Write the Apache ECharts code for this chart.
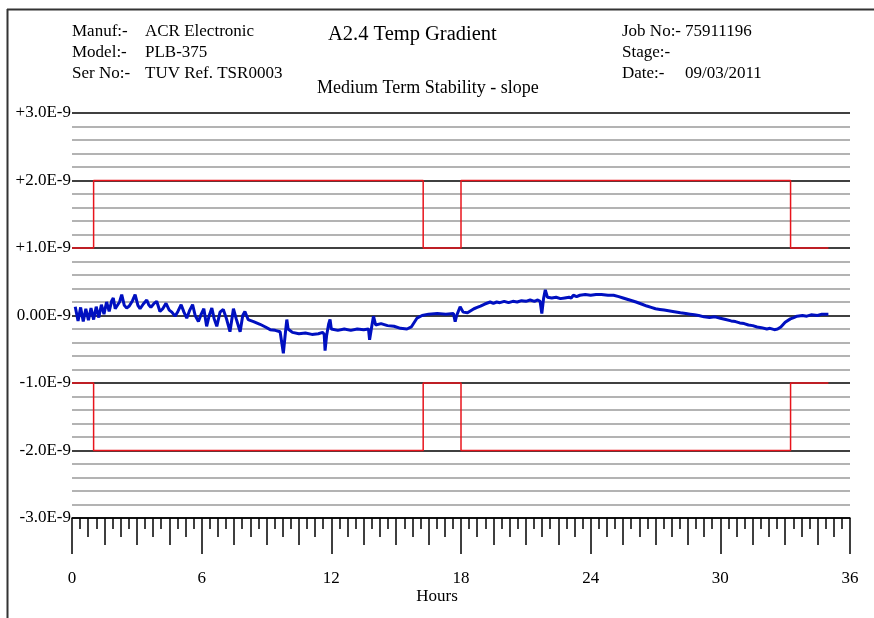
<!DOCTYPE html>
<html>
<head>
<meta charset="utf-8">
<script src="https://cdn.jsdelivr.net/npm/echarts@6/dist/echarts.min.js"></script>
<style>
html,body{margin:0;padding:0;background:#fff;}
#chart{width:874px;height:618px;}
</style>
</head>
<body>
<div id="chart"></div>
<script>
// ---- data (values in units of 1E-9) ----
var hours = [0.15,0.28,0.4,0.52,0.64,0.76,0.88,1.0,1.12,1.24,1.36,1.48,1.6,1.72,1.84,1.91,2.0,2.08,
  2.2,2.3,2.42,2.53,2.65,2.8,2.92,3.05,3.15,3.3,3.46,3.55,3.65,3.8,3.92,4.07,4.2,4.35,4.5,4.62,4.77,4.9,5.05,5.18,5.31,5.45,5.58,5.7,5.85,5.98,6.1,6.23,6.35,6.47,6.58,6.7,6.85,7.0,7.15,7.31,7.47,7.6,7.78,7.9,8.0,8.15,8.4,8.7,8.95,9.17,9.4,9.63,9.7,
  9.78,9.86,9.94,10.0,10.2,10.5,10.8,11.1,11.4,11.6,11.67,11.71,11.78,11.88,11.94,12.0,12.3,12.6,12.9,13.2,13.5,13.72,13.77,13.85,13.95,14.05,14.3,14.6,14.9,15.2,15.5,15.7,15.96,16.2,16.5,16.9,17.3,17.65,17.73,17.8,17.96,18.1,
  18.3,18.45,18.6,18.75,18.9,19.1,19.35,19.5,19.65,19.8,20.0,20.2,20.4,20.6,20.8,21.0,21.2,21.4,21.55,21.66,21.74,21.82,21.9,
  22.0,22.2,22.4,22.6,22.8,23.0,23.1,23.2,23.35,23.5,23.75,24.0,24.25,24.5,24.8,25.06,25.3,25.5,25.8,26.1,26.35,26.6,26.8,27.0,27.2,27.4,27.8,28.15,28.4,28.6,28.8,29.0,29.25,29.5,29.75,30.0,30.25,30.5,30.7,30.9,31.1,31.3,31.5,31.7,31.9,32.15,32.3,32.5,32.65,32.8,33.0,33.24,33.4,33.55,33.8,34.0,34.2,34.5,34.7,35.0];
var slope = [0.13,-0.08,0.12,-0.09,0.1,-0.07,0.11,-0.06,0.13,-0.03,0.16,0.02,0.2,0.06,0.22,0.26,0.1,0.14,
  0.2,0.31,0.15,0.11,0.14,0.22,0.31,0.15,0.1,0.17,0.23,0.16,0.12,0.18,0.21,0.06,0.1,0.18,0.08,0.05,-0.01,0.06,0.16,0.05,-0.04,0.08,0.16,0.0,-0.09,0.02,0.1,-0.16,0.0,0.11,-0.05,-0.16,0.05,0.09,-0.05,-0.24,0.1,-0.05,-0.24,0.0,0.06,-0.06,-0.09,-0.13,-0.17,-0.21,-0.22,-0.24,-0.25,
  -0.56,-0.3,-0.06,-0.2,-0.25,-0.27,-0.26,-0.28,-0.27,-0.25,-0.28,-0.52,-0.3,-0.12,-0.06,-0.2,-0.22,-0.2,-0.22,-0.2,-0.21,-0.2,-0.36,-0.2,-0.01,-0.14,-0.12,-0.15,-0.16,-0.19,-0.2,-0.17,-0.04,0.0,0.02,0.03,0.02,0.03,-0.09,0.0,0.13,0.05,
  0.04,0.07,0.1,0.12,0.14,0.17,0.2,0.18,0.2,0.19,0.21,0.19,0.21,0.2,0.22,0.21,0.23,0.21,0.23,0.21,0.03,0.25,0.38,
  0.27,0.26,0.27,0.25,0.26,0.27,0.26,0.3,0.28,0.3,0.31,0.3,0.31,0.31,0.3,0.3,0.28,0.26,0.23,0.2,0.17,0.14,0.12,0.1,0.09,0.08,0.06,0.04,0.03,0.02,0.01,0.0,-0.02,-0.03,-0.02,-0.04,-0.06,-0.08,-0.09,-0.11,-0.12,-0.14,-0.15,-0.17,-0.18,-0.2,-0.19,-0.21,-0.2,-0.17,-0.1,-0.05,-0.03,-0.01,0.0,-0.01,0.01,0.0,0.02,0.02];

var limitHours = [0,1,1,16.25,16.25,18,18,33.25,33.25,35];
var upperLimit = [1,1,2,2,1,1,2,2,1,1];
var lowerLimit = [-1,-1,-2,-2,-1,-1,-2,-2,-1,-1];

var yTickValues = [-3,-2,-1,0,1,2,3];
var yTickLabels = ['-3.0E-9','-2.0E-9','-1.0E-9','0.00E-9','+1.0E-9','+2.0E-9','+3.0E-9'];
var xTickLabels = ['0','6','12','18','24','30','36'];

function zip(a,b){ var r=[]; for(var i=0;i<a.length;i++) r.push([a[i],b[i]]); return r; }

var FONT = "'Liberation Serif','Times New Roman',serif";
var chart = echarts.init(document.getElementById('chart'), null, {renderer:'canvas'});

function tickAxis(interval, len){
  return {type:'value', gridIndex:0, min:0, max:36, interval:interval, position:'bottom',
    axisLine:{show:false, onZero:false}, splitLine:{show:false}, axisLabel:{show:false},
    axisTick:{show:true, length:len, lineStyle:{color:'#000', width:1.5}}};
}

var txt = function(x,y,t,size,align){ return {type:'text', x:x, y:y, style:{text:t, fill:'#000', font:(size||17)+'px '+FONT, textAlign:align||'left', textVerticalAlign:'middle'}}; };

chart.setOption({
  animation:false,
  backgroundColor:'#fff',
  grid:{left:72, right:24, top:113, bottom:100, containLabel:false, outerBoundsMode:'none'},
  xAxis:[
    {type:'value', min:0, max:36, interval:6, position:'bottom',
     axisLine:{show:true, onZero:false, lineStyle:{color:'#000', width:1.5}},
     axisTick:{show:true, length:36, lineStyle:{color:'#000', width:1.5}},
     splitLine:{show:false},
     axisLabel:{color:'#000', fontFamily:FONT, fontSize:17, margin:52,
       formatter:function(v){ var i=Math.round(v/6); return xTickLabels[i]; }}},
    tickAxis(1.5,27), tickAxis(0.75,19), tickAxis(0.375,11)
  ],
  yAxis:[
    {type:'value', min:-3, max:3, interval:0.2, position:'left',
     axisLine:{show:false}, axisTick:{show:false}, axisLabel:{show:false},
     splitLine:{show:true, lineStyle:{color:'#9a9a9a', width:1.5}}},
    {type:'value', min:-3, max:3, interval:1, position:'left',
     axisLine:{show:false}, axisTick:{show:false},
     axisLabel:{color:'#000', fontFamily:FONT, fontSize:17, margin:1,
       formatter:function(v){ var i=yTickValues.indexOf(Math.round(v)); return yTickLabels[i]; }},
     splitLine:{show:true, lineStyle:{color:'#1a1a1a', width:1.5}}}
  ],
  series:[
    {type:'line', xAxisIndex:0, yAxisIndex:0, data:zip(limitHours,upperLimit), showSymbol:false,
     lineStyle:{color:'#e8141c', width:1.5}, z:3},
    {type:'line', xAxisIndex:0, yAxisIndex:0, data:zip(limitHours,lowerLimit), showSymbol:false,
     lineStyle:{color:'#e8141c', width:1.5}, z:3},
    {type:'line', xAxisIndex:0, yAxisIndex:0, data:zip(hours,slope), showSymbol:false,
     lineStyle:{color:'#0010c0', width:3}, z:4}
  ],
  graphic:[
    {type:'line', shape:{x1:7, y1:9.5, x2:874, y2:9.5}, style:{stroke:'#333', lineWidth:2}},
    {type:'line', shape:{x1:7.5, y1:9, x2:7.5, y2:618}, style:{stroke:'#333', lineWidth:2}},
    txt(72,32,'Manuf:-'), txt(145,32,'ACR Electronic'),
    txt(72,53,'Model:-'), txt(145,53,'PLB-375'),
    txt(72,74,'Ser No:-'), txt(145,74,'TUV Ref. TSR0003'),
    txt(328,35,'A2.4 Temp Gradient',20.5),
    txt(317,88,'Medium Term Stability - slope',18),
    txt(622,32,'Job No:-'), txt(685,32,'75911196'),
    txt(622,53,'Stage:-'),
    txt(622,74,'Date:-'), txt(685,74,'09/03/2011'),
    txt(437,597,'Hours',17,'center')
  ]
});
</script>
</body>
</html>
